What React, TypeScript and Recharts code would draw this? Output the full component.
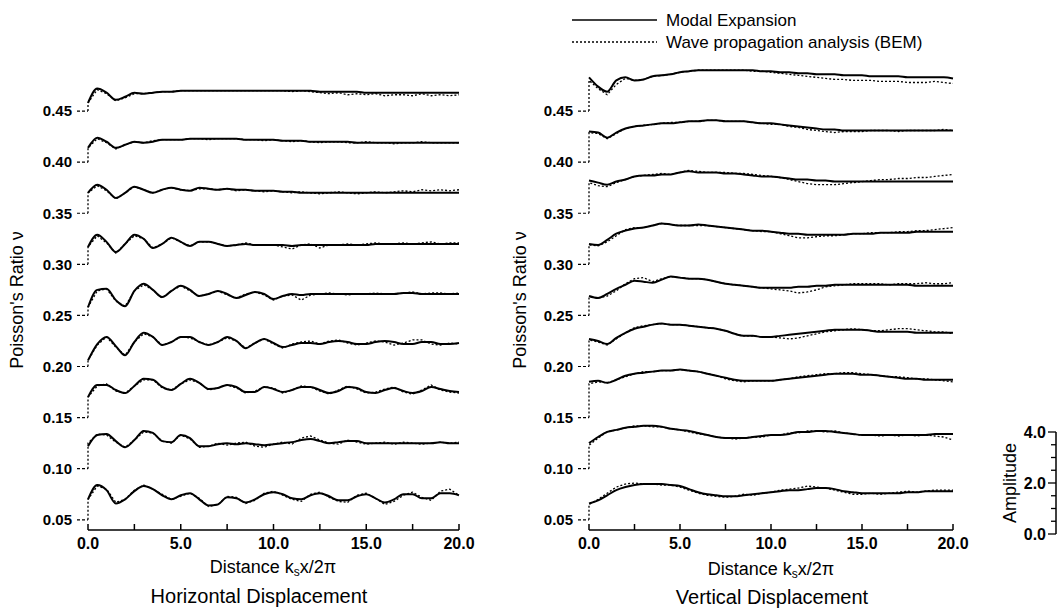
import { LineChart, Line, XAxis, YAxis, Legend } from 'recharts'

const FONT = '"Liberation Sans", Arial, Helvetica, sans-serif'

// sample positions along the distance axis (k_s x / 2π)
const xs = [
  0, 0.5, 1, 1.5, 2, 2.5, 3, 3.5, 4, 4.5,
  5, 5.5, 6, 6.5, 7, 7.5, 8, 8.5, 9, 9.5,
  10, 10.5, 11, 11.5, 12, 12.5, 13, 13.5, 14, 14.5,
  15, 15.5, 16, 16.5, 17, 17.5, 18, 18.5, 19, 19.5,
  20,
]
const ratioTicks = [0.05, 0.1, 0.15, 0.2, 0.25, 0.3, 0.35, 0.4, 0.45]
const distanceTicks = [0, 2.5, 5, 7.5, 10, 12.5, 15, 17.5, 20]
const amplitudeTicks = [0, 0.5, 1, 1.5, 2, 2.5, 3, 3.5, 4]

// each curve is drawn above its Poisson's ratio baseline; values are offsets in 0.001
// horizontal displacement
const h45Modal = [8, 22, 18, 11, 14, 18, 17, 18, 19, 19, 20, 20, 20, 20, 20, 20, 20, 20, 20, 20, 20, 20, 20, 20, 20, 19, 19, 19, 19, 19, 18, 18, 18, 18, 18, 18, 18, 18, 18, 18, 18]
const h45Bem = [8, 21, 17, 10, 13, 17, 17, 18, 19, 19, 20, 20, 20, 20, 20, 20, 20, 20, 20, 20, 20, 20, 19, 20, 19, 18, 17, 18, 16, 17, 16, 17, 15, 16, 16, 15, 17, 15, 16, 15, 16]
const h40Modal = [14, 24, 20, 14, 17, 20, 19, 20, 22, 22, 22, 23, 23, 23, 23, 23, 23, 22, 22, 22, 22, 21, 21, 21, 20, 20, 20, 20, 20, 19, 19, 19, 19, 19, 19, 19, 19, 19, 19, 19, 19]
const h40Bem = [14, 23, 19, 13, 17, 20, 19, 21, 22, 22, 22, 23, 23, 22, 23, 23, 23, 22, 22, 21, 22, 21, 20, 21, 20, 19, 20, 20, 19, 19, 20, 19, 19, 18, 19, 19, 20, 19, 19, 19, 19]
const h35Modal = [20, 28, 23, 15, 20, 26, 23, 20, 23, 25, 23, 22, 25, 24, 23, 24, 23, 23, 22, 22, 22, 21, 21, 20, 20, 20, 20, 20, 20, 20, 20, 20, 20, 20, 20, 20, 20, 20, 20, 20, 20]
const h35Bem = [20, 27, 22, 14, 20, 26, 23, 20, 23, 25, 23, 22, 24, 24, 23, 24, 22, 23, 22, 21, 22, 21, 20, 21, 20, 19, 20, 21, 20, 19, 20, 21, 20, 21, 22, 21, 23, 22, 23, 22, 23]
const h30Modal = [17, 29, 22, 12, 20, 29, 25, 16, 20, 26, 22, 18, 22, 22, 20, 18, 19, 20, 19, 19, 19, 19, 18, 19, 19, 19, 19, 19, 19, 19, 19, 20, 20, 20, 20, 20, 20, 20, 20, 20, 20]
const h30Bem = [17, 28, 21, 11, 20, 28, 25, 16, 20, 26, 22, 18, 22, 22, 20, 18, 19, 21, 19, 19, 19, 17, 15, 19, 20, 16, 19, 19, 20, 19, 20, 21, 20, 20, 21, 20, 21, 22, 20, 21, 21]
const h25Modal = [8, 25, 26, 15, 9, 24, 31, 25, 18, 24, 29, 25, 19, 21, 24, 21, 17, 20, 23, 21, 16, 19, 21, 20, 21, 21, 21, 21, 21, 21, 21, 21, 21, 21, 22, 22, 21, 21, 21, 21, 21]
const h25Bem = [8, 24, 26, 14, 9, 24, 30, 25, 17, 24, 29, 24, 19, 21, 24, 20, 17, 21, 23, 20, 15, 19, 20, 15, 20, 21, 22, 21, 20, 21, 21, 22, 21, 21, 22, 23, 21, 22, 22, 21, 22]
const h20Modal = [6, 22, 29, 20, 11, 24, 33, 29, 21, 24, 29, 29, 24, 21, 24, 29, 25, 18, 23, 27, 23, 19, 21, 23, 23, 22, 24, 25, 24, 22, 22, 24, 25, 24, 22, 22, 24, 24, 22, 22, 23]
const h20Bem = [6, 21, 29, 19, 11, 24, 32, 29, 21, 24, 29, 28, 24, 21, 24, 28, 25, 18, 23, 27, 22, 18, 22, 24, 25, 22, 25, 26, 23, 21, 23, 25, 24, 21, 23, 26, 26, 22, 21, 23, 22]
const h15Modal = [20, 32, 32, 27, 24, 31, 38, 37, 30, 27, 33, 38, 34, 28, 29, 32, 30, 25, 25, 30, 28, 25, 27, 30, 30, 27, 24, 26, 30, 29, 25, 24, 27, 29, 26, 24, 26, 30, 28, 26, 25]
const h15Bem = [20, 31, 33, 26, 24, 31, 37, 37, 29, 27, 33, 37, 34, 27, 29, 32, 29, 24, 26, 30, 29, 24, 27, 31, 30, 26, 23, 27, 31, 28, 24, 25, 28, 30, 25, 23, 27, 32, 27, 25, 24]
const h10Modal = [22, 33, 34, 27, 21, 28, 37, 35, 27, 26, 33, 30, 22, 22, 24, 25, 24, 25, 24, 23, 24, 25, 26, 28, 29, 27, 25, 26, 27, 27, 25, 25, 25, 25, 25, 25, 25, 25, 26, 25, 25]
const h10Bem = [25, 34, 33, 26, 21, 28, 36, 35, 27, 25, 33, 29, 21, 22, 25, 23, 25, 26, 22, 21, 24, 26, 24, 30, 32, 28, 25, 24, 28, 26, 24, 25, 26, 24, 26, 25, 24, 25, 26, 25, 26]
const h05Modal = [20, 34, 29, 16, 20, 28, 33, 30, 24, 20, 24, 26, 20, 14, 15, 22, 21, 17, 20, 25, 27, 25, 21, 20, 24, 26, 23, 19, 19, 23, 25, 21, 17, 20, 25, 25, 21, 21, 26, 26, 24]
const h05Bem = [20, 33, 30, 17, 20, 29, 34, 30, 25, 20, 23, 26, 21, 13, 15, 23, 22, 16, 19, 26, 28, 24, 20, 18, 25, 27, 22, 18, 17, 24, 26, 21, 15, 18, 24, 27, 22, 19, 28, 30, 24]

// vertical displacement
const v45Modal = [33, 24, 19, 30, 33, 30, 31, 34, 35, 36, 38, 39, 40, 40, 40, 40, 40, 40, 40, 39, 39, 38, 38, 37, 37, 36, 36, 36, 35, 35, 35, 34, 34, 34, 34, 33, 33, 33, 33, 33, 32]
const v45Bem = [30, 22, 16, 26, 32, 30, 31, 34, 35, 36, 38, 39, 40, 40, 40, 40, 40, 40, 39, 39, 38, 37, 36, 35, 34, 33, 32, 31, 31, 30, 30, 30, 29, 29, 29, 28, 28, 28, 29, 28, 27]
const v40Modal = [30, 29, 24, 29, 33, 35, 36, 37, 38, 38, 39, 40, 40, 41, 41, 40, 40, 40, 39, 38, 38, 37, 36, 35, 34, 33, 32, 32, 31, 31, 31, 31, 31, 31, 31, 31, 31, 31, 31, 31, 31]
const v40Bem = [29, 28, 23, 28, 33, 35, 36, 37, 38, 39, 39, 40, 40, 41, 41, 40, 40, 40, 39, 38, 37, 37, 35, 34, 32, 31, 30, 29, 30, 30, 30, 31, 31, 31, 30, 31, 31, 31, 31, 32, 31]
const v35Modal = [32, 30, 28, 31, 33, 36, 37, 37, 38, 38, 40, 41, 40, 40, 40, 39, 39, 38, 37, 36, 36, 35, 34, 33, 33, 32, 32, 31, 31, 31, 31, 31, 31, 31, 31, 31, 31, 31, 31, 31, 31]
const v35Bem = [30, 27, 26, 30, 33, 36, 37, 38, 39, 38, 40, 42, 41, 40, 40, 40, 39, 39, 38, 37, 36, 35, 33, 31, 29, 28, 28, 28, 29, 30, 31, 32, 33, 33, 34, 34, 35, 35, 36, 37, 38]
const v30Modal = [20, 19, 24, 30, 33, 35, 36, 38, 40, 39, 38, 38, 39, 38, 37, 36, 35, 34, 33, 33, 32, 31, 30, 30, 29, 29, 29, 29, 29, 30, 30, 30, 31, 31, 31, 31, 32, 32, 32, 32, 32]
const v30Bem = [19, 18, 22, 28, 34, 36, 36, 38, 40, 39, 38, 38, 38, 38, 37, 36, 35, 34, 33, 32, 32, 30, 28, 26, 26, 27, 28, 28, 29, 30, 30, 31, 31, 31, 32, 32, 33, 33, 34, 35, 36]
const v25Modal = [19, 17, 21, 26, 30, 34, 33, 32, 35, 38, 37, 36, 36, 35, 33, 31, 30, 29, 28, 27, 27, 27, 27, 28, 28, 29, 29, 30, 30, 30, 30, 30, 30, 30, 30, 30, 29, 29, 29, 29, 29]
const v25Bem = [18, 17, 19, 24, 31, 36, 37, 33, 36, 38, 37, 36, 36, 35, 33, 31, 30, 29, 28, 27, 26, 25, 24, 22, 23, 25, 28, 29, 30, 31, 31, 31, 31, 30, 31, 31, 31, 32, 31, 31, 32]
const v20Modal = [27, 25, 22, 28, 33, 37, 39, 41, 42, 41, 41, 40, 39, 38, 37, 35, 32, 30, 30, 29, 29, 30, 31, 32, 33, 34, 35, 36, 36, 36, 36, 35, 34, 34, 34, 34, 33, 33, 33, 33, 33]
const v20Bem = [26, 24, 21, 27, 33, 38, 40, 41, 42, 41, 41, 40, 39, 38, 37, 35, 32, 30, 30, 29, 29, 28, 27, 28, 30, 32, 34, 35, 36, 37, 36, 35, 35, 36, 37, 37, 36, 35, 34, 34, 32]
const v15Modal = [35, 36, 34, 37, 41, 43, 44, 45, 46, 46, 47, 46, 45, 43, 41, 39, 37, 36, 36, 36, 36, 37, 38, 39, 40, 41, 42, 43, 43, 43, 42, 42, 41, 40, 39, 38, 38, 37, 37, 37, 37]
const v15Bem = [33, 35, 34, 37, 40, 43, 45, 45, 46, 46, 47, 46, 45, 43, 41, 38, 36, 35, 36, 36, 36, 37, 38, 40, 41, 42, 43, 43, 44, 44, 43, 42, 41, 40, 40, 39, 38, 38, 37, 36, 35]
const v10Modal = [25, 31, 36, 38, 40, 41, 42, 42, 41, 39, 38, 37, 35, 33, 31, 30, 30, 30, 31, 32, 33, 33, 34, 36, 36, 37, 37, 36, 35, 34, 33, 33, 33, 33, 33, 33, 33, 33, 34, 34, 34]
const v10Bem = [23, 30, 36, 38, 40, 42, 42, 41, 41, 39, 38, 36, 34, 33, 31, 30, 29, 30, 31, 31, 33, 33, 35, 35, 37, 37, 36, 37, 35, 34, 33, 33, 32, 33, 32, 33, 32, 33, 32, 31, 28]
const v05Modal = [16, 19, 24, 29, 32, 34, 35, 35, 35, 34, 33, 30, 27, 25, 24, 23, 23, 24, 25, 26, 27, 28, 29, 29, 30, 31, 31, 30, 28, 27, 26, 26, 26, 26, 26, 27, 27, 28, 28, 28, 28]
const v05Bem = [15, 20, 26, 32, 35, 36, 35, 35, 34, 34, 32, 29, 26, 24, 23, 22, 23, 25, 24, 26, 27, 29, 30, 31, 33, 32, 31, 29, 27, 25, 25, 26, 25, 26, 27, 28, 27, 28, 29, 29, 29]

type Curve = { base: number; modal: number[]; bem: number[] }

const horizontalCurves: Curve[] = [
  { base: 0.45, modal: h45Modal, bem: h45Bem },
  { base: 0.4, modal: h40Modal, bem: h40Bem },
  { base: 0.35, modal: h35Modal, bem: h35Bem },
  { base: 0.3, modal: h30Modal, bem: h30Bem },
  { base: 0.25, modal: h25Modal, bem: h25Bem },
  { base: 0.2, modal: h20Modal, bem: h20Bem },
  { base: 0.15, modal: h15Modal, bem: h15Bem },
  { base: 0.1, modal: h10Modal, bem: h10Bem },
  { base: 0.05, modal: h05Modal, bem: h05Bem },
]

const verticalCurves: Curve[] = [
  { base: 0.45, modal: v45Modal, bem: v45Bem },
  { base: 0.4, modal: v40Modal, bem: v40Bem },
  { base: 0.35, modal: v35Modal, bem: v35Bem },
  { base: 0.3, modal: v30Modal, bem: v30Bem },
  { base: 0.25, modal: v25Modal, bem: v25Bem },
  { base: 0.2, modal: v20Modal, bem: v20Bem },
  { base: 0.15, modal: v15Modal, bem: v15Bem },
  { base: 0.1, modal: v10Modal, bem: v10Bem },
  { base: 0.05, modal: v05Modal, bem: v05Bem },
]

const toPoints = (base: number, offs: number[]) =>
  xs.map((x, i) => ({ x, v: base + offs[i] / 1000 }))

function XTick({ x, y, payload }: any) {
  const major = payload.value % 5 === 0
  return (
    <g>
      <line x1={x} x2={x} y1={y} y2={y - 6} stroke="#000" strokeWidth={1.5} />
      {major && (
        <text
          x={x}
          y={y + 13}
          textAnchor="middle"
          dominantBaseline="central"
          fontSize={16}
          fontWeight={700}
          fontFamily={FONT}
          fill="#000"
        >
          {payload.value.toFixed(1)}
        </text>
      )}
    </g>
  )
}

function AmpTick({ x, y, payload }: any) {
  const major = payload.value % 2 === 0
  return (
    <g>
      <line x1={x} x2={x - (major ? 8 : 5)} y1={y} y2={y} stroke="#000" strokeWidth={1.3} />
      {major && (
        <text
          x={x - 10}
          y={y}
          textAnchor="end"
          dominantBaseline="central"
          fontSize={16}
          fontWeight={700}
          fontFamily={FONT}
          fill="#000"
        >
          {payload.value.toFixed(1)}
        </text>
      )}
    </g>
  )
}

function LegendBox() {
  return (
    <svg width={380} height={44} style={{ display: 'block' }}>
      <line x1={0} x2={85} y1={12} y2={12} stroke="#000" strokeWidth={1.5} />
      <text x={94} y={12} dominantBaseline="central" fontSize={17} fontFamily={FONT} fill="#000">
        Modal Expansion
      </text>
      <line x1={0} x2={85} y1={34} y2={34} stroke="#000" strokeWidth={1.3} strokeDasharray="2 2" />
      <text x={94} y={34} dominantBaseline="central" fontSize={17} fontFamily={FONT} fill="#000">
        Wave propagation analysis (BEM)
      </text>
    </svg>
  )
}

function Panel({ curves, yAxisWidth, width, marginRight, withLegend }: {
  curves: Curve[]
  yAxisWidth: number
  width: number
  marginRight: number
  withLegend?: boolean
}) {
  return (
    <LineChart width={width} height={560} margin={{ top: 60, right: marginRight, bottom: 0, left: 0 }}>
      <XAxis
        type="number"
        dataKey="x"
        domain={[0, 20]}
        ticks={distanceTicks}
        interval={0}
        height={30}
        tickSize={0}
        tickMargin={0}
        tickLine={false}
        axisLine={{ stroke: '#000', strokeWidth: 1.5 }}
        tick={(p: any) => <XTick {...p} />}
      />
      <YAxis
        type="number"
        dataKey="v"
        domain={[0.04, 0.5]}
        allowDataOverflow
        ticks={ratioTicks}
        interval={0}
        width={yAxisWidth}
        axisLine={false}
        tickSize={11}
        tickMargin={5}
        tickLine={{ stroke: '#000', strokeWidth: 1.2, strokeDasharray: '3 2' }}
        tickFormatter={(v: number) => v.toFixed(2)}
        tick={{ fill: '#000', fontSize: 15, fontWeight: 700, fontFamily: FONT }}
      />
      {withLegend && (
        <Legend
          layout="vertical"
          align="center"
          verticalAlign="middle"
          content={() => <LegendBox />}
          wrapperStyle={{ top: 8, left: 72, width: 380, height: 44 }}
        />
      )}
      {curves.map((c) => (
        <Line
          key={`m${c.base}`}
          data={toPoints(c.base, c.modal)}
          dataKey="v"
          type="monotone"
          stroke="#000"
          strokeWidth={2}
          dot={false}
          isAnimationActive={false}
        />
      ))}
      {curves.map((c) => (
        <Line
          key={`b${c.base}`}
          data={[{ x: 0, v: c.base }, ...toPoints(c.base, c.bem)]}
          dataKey="v"
          type="linear"
          stroke="#000"
          strokeWidth={1.3}
          strokeDasharray="2 2"
          dot={false}
          isAnimationActive={false}
        />
      ))}
    </LineChart>
  )
}

function Caption({ x, y, size, rotate, children }: {
  x: number
  y: number
  size: number
  rotate?: boolean
  children: React.ReactNode
}) {
  return (
    <div
      style={{
        position: 'absolute',
        left: x,
        top: y,
        transform: `translate(-50%, -50%)${rotate ? ' rotate(-90deg)' : ''}`,
        fontSize: size,
        lineHeight: 1,
        whiteSpace: 'nowrap',
        color: '#000',
      }}
    >
      {children}
    </div>
  )
}

const distanceLabel = (
  <>
    Distance k<span style={{ fontSize: 12, position: 'relative', top: 3 }}>s</span>x/2π
  </>
)

export default function App() {
  return (
    <div
      style={{
        position: 'absolute',
        left: 0,
        top: 0,
        width: 1058,
        height: 610,
        background: '#fff',
        fontFamily: FONT,
        overflow: 'hidden',
      }}
    >
      <div style={{ position: 'absolute', left: 0, top: 0 }}>
        <Panel curves={horizontalCurves} yAxisWidth={88} width={500} marginRight={41} />
      </div>
      <div style={{ position: 'absolute', left: 500, top: 0 }}>
        <Panel curves={verticalCurves} yAxisWidth={89} width={500} marginRight={47} withLegend />
      </div>
      <div style={{ position: 'absolute', left: 1000, top: 420 }}>
        <LineChart width={58} height={130} margin={{ top: 12, right: 0, bottom: 16, left: 0 }}>
          <XAxis type="number" dataKey="x" domain={[0, 1]} allowDataOverflow hide />
          <YAxis
            type="number"
            domain={[0, 4]}
            allowDataOverflow
            ticks={amplitudeTicks}
            interval={0}
            width={56}
            tickSize={0}
            tickMargin={0}
            tickLine={false}
            axisLine={{ stroke: '#000', strokeWidth: 1.5 }}
            tick={(p: any) => <AmpTick {...p} />}
          />
        </LineChart>
      </div>

      <Caption x={17} y={300} size={18} rotate>Poisson's Ratio ν</Caption>
      <Caption x={520} y={300} size={18} rotate>Poisson's Ratio ν</Caption>
      <Caption x={1010} y={483} size={18} rotate>Amplitude</Caption>
      <Caption x={273} y={567} size={18}>{distanceLabel}</Caption>
      <Caption x={771} y={569} size={18}>{distanceLabel}</Caption>
      <Caption x={259} y={596} size={20}>Horizontal Displacement</Caption>
      <Caption x={772} y={597} size={20}>Vertical Displacement</Caption>
    </div>
  )
}
